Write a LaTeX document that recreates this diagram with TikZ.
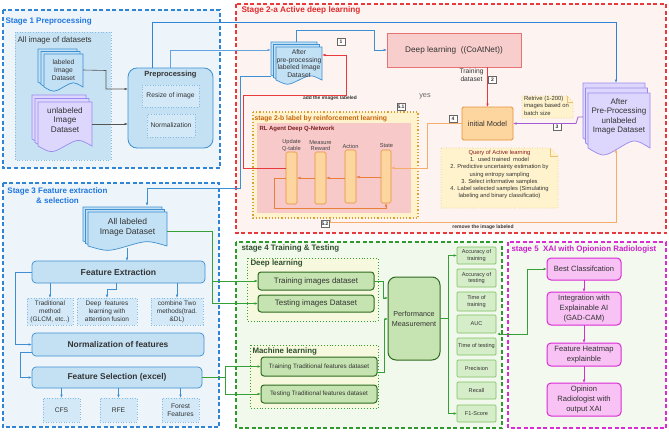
\documentclass[tikz,border=0pt]{standalone}
\usepackage{fontspec}
\setmainfont{Liberation Sans}
\usetikzlibrary{arrows.meta}
\definecolor{bluebd}{HTML}{2F84D6}
\definecolor{bluetx}{HTML}{1F77E0}
\definecolor{st1fill}{HTML}{EEF5FA}
\definecolor{allimg}{HTML}{C7E3F3}
\definecolor{allimgbd}{HTML}{86BCE3}
\definecolor{docblue}{HTML}{C2E1F5}
\definecolor{docbluebd}{HTML}{3D8FD1}
\definecolor{boxblue}{HTML}{C4E1F4}
\definecolor{dotblue}{HTML}{D3E9F7}
\definecolor{lav}{HTML}{DDD6FD}
\definecolor{lavbd}{HTML}{9A8AEE}
\definecolor{redbd}{HTML}{E8393C}
\definecolor{redtx}{HTML}{E02A2A}
\definecolor{st2fill}{HTML}{FDF4F2}
\definecolor{dlfill}{HTML}{F8CECC}
\definecolor{dlbd}{HTML}{E57373}
\definecolor{orfill}{HTML}{FCD59F}
\definecolor{orbd}{HTML}{E8913A}
\definecolor{orline}{HTML}{E8803A}
\definecolor{orlight}{HTML}{F5AE6A}
\definecolor{yelfill}{HTML}{FFF3CD}
\definecolor{yelbd}{HTML}{DDA030}
\definecolor{st2btx}{HTML}{C8640A}
\definecolor{rlfill}{HTML}{F8C9C9}
\definecolor{rltx}{HTML}{7A2121}
\definecolor{notebd}{HTML}{F0C070}
\definecolor{qtitle}{HTML}{8B1A1A}
\definecolor{purp}{HTML}{A35CD6}
\definecolor{grnbd}{HTML}{2E9A2E}
\definecolor{grntx}{HTML}{2F4F2F}
\definecolor{st4fill}{HTML}{F1F8EC}
\definecolor{dlsub}{HTML}{F6F9DE}
\definecolor{gbox}{HTML}{C6E4B1}
\definecolor{gboxbd}{HTML}{2E6A20}
\definecolor{mfill}{HTML}{D6EDC9}
\definecolor{mbd}{HTML}{7DC060}
\definecolor{magbd}{HTML}{DA2BD4}
\definecolor{magfill}{HTML}{F8C2F4}
\definecolor{magtx}{HTML}{CC1FCC}
\definecolor{st5fill}{HTML}{F3F9EF}
\definecolor{txt}{HTML}{333333}
\definecolor{grline}{HTML}{35A035}
\definecolor{grayln}{HTML}{555555}
\newcommand\fsz[2]{\fontsize{#1}{#2}\selectfont}
\newcommand\docp[5]{\path[#5] ({#1},{#2}) -- ({#3},{#2}) -- ({#3},{#4}) .. controls ({(#1)+0.75*((#3)-(#1))},{(#4)-0.17*((#4)-(#2))}) .. ({0.5*((#1)+(#3))},{#4}) .. controls ({(#1)+0.25*((#3)-(#1))},{(#4)+0.17*((#4)-(#2))}) .. ({#1},{#4}) -- cycle;}
\newcommand\mdoc[7]{%
 \docp{(#1)+2*(#5)}{(#2)+2*(#6)}{(#3)+2*(#5)}{(#4)+2*(#6)}{#7}%
 \docp{(#1)+(#5)}{(#2)+(#6)}{(#3)+(#5)}{(#4)+(#6)}{#7}%
 \docp{#1}{#2}{#3}{#4}{#7}}
\newcommand\bx[7]{\node[#6, minimum width={(#4)-(#2)}, minimum height={(#5)-(#3)}] (#1) at ({((#2)+(#4))/2},{((#3)+(#5))/2}) {#7};}
\tikzset{
 stagebox/.style={line width=1.1pt, dash pattern=on 4pt off 2.5pt},
 arr/.style={-{Latex[length=3.5pt,width=2.6pt]}, line width=0.6pt},
 tn/.style={inner sep=0pt},
 numbox/.style={draw=gray!80!black, fill=white, line width=0.5pt, inner sep=0.5pt, minimum width=8pt, minimum height=7pt, font=\fsz{5}{5}\bfseries},
 bluebox/.style={draw=docbluebd, fill=boxblue, rounded corners=4pt, line width=0.7pt},
 dbox/.style={draw=allimgbd, fill=dotblue, dotted, line width=0.6pt},
 bar/.style={draw=orbd, fill=orfill, rounded corners=1.5pt, line width=0.6pt},
 gboxs/.style={draw=gboxbd, fill=gbox, rounded corners=3pt, line width=1pt},
 mbox/.style={draw=mbd, fill=mfill, rounded corners=1pt, line width=0.7pt, font=\fsz{5.6}{6.6}},
 magbox/.style={draw=magbd, fill=magfill, rounded corners=4pt, line width=1pt, font=\fsz{7.6}{10}},
 bluedoc/.style={draw=docbluebd, fill=docblue, line width=0.7pt},
 lavdoc/.style={draw=lavbd, fill=lav, line width=0.7pt}
}
\begin{document}
\begin{tikzpicture}[x=1pt,y=-1pt, every node/.append style={inner sep=0.5pt, outer sep=0pt, align=center, text=txt}]
\useasboundingbox (0,0) rectangle (669,431);
\fill[white] (0,0) rectangle (669,431);
% ---------- stage backgrounds
\path[stagebox, draw=bluebd, fill=st1fill] (3,10) rectangle (220,168);
\path[stagebox, draw=redbd, fill=st2fill] (236,4) rectangle (666,233);
\path[stagebox, draw=bluebd, fill=st1fill] (3,183) rectangle (219,427);
\path[stagebox, draw=grnbd, fill=st4fill] (236,242) rectangle (502,428);
\path[stagebox, draw=magbd, fill=st5fill] (508,242) rectangle (666,428);
\path[draw=allimgbd, fill=allimg, dotted, line width=0.7pt] (15,32) rectangle (111,160);
\path[draw=yelbd, fill=yelfill, dotted, line width=1.2pt] (253,112) rectangle (418,218);
\path[fill=rlfill] (257,123) rectangle (411,213);
\path[draw=grline, fill=dlsub, dotted, line width=0.9pt] (247,258) rectangle (378,321);
\path[draw=grline, fill=dlsub, dotted, line width=0.9pt] (250,345) rectangle (378,408);
% ---------- stage labels
\node[anchor=west, font=\fsz{8}{9}\bfseries, text=bluetx] (s1) at (5,21) {Stage 1 Preprocessing};
\node[anchor=west, font=\fsz{8}{9}] (allimgl) at (17,40.5) {All image of datasets};
\node[anchor=west, font=\fsz{8.2}{9}\bfseries, text=redtx] (s2) at (241,10) {Stage 2-a Active deep learning};
\node[anchor=west, font=\fsz{6.8}{8}\bfseries, text=st2btx] (s2b) at (254,119) {stage 2-b label by reinforcement learning};
\node[anchor=west, font=\fsz{6}{7}\bfseries, text=rltx] (rl) at (259,129) {RL Agent Deep Q-Network};
\node[font=\fsz{8}{9.8}\bfseries, text=bluetx] (s3) at (57.5,196) {Stage 3 Feature extraction\\\& selection};
\node[anchor=west, font=\fsz{7.9}{9}\bfseries, text=grntx] (s4) at (241,248) {stage 4 Training \& Testing};
\node[anchor=west, font=\fsz{7.9}{9}\bfseries, text=grntx] (dls) at (250,263.5) {Deep learning};
\node[anchor=west, font=\fsz{7.9}{9}\bfseries, text=grntx] (mls) at (252,351) {Machine learning};
\node[anchor=west, font=\fsz{7.9}{9}\bfseries, text=magtx] (s5) at (511,249) {stage 5\ \ XAI with Opionion Radiologist};
% ---------- stage 1
\mdoc{44}{54}{83}{87}{-3}{-2.5}{bluedoc}
\bx{labdoc}{44}{54}{83}{86}{tn, font=\fsz{6.7}{8}}{labeled\\Image\\Dataset}
\mdoc{38}{102}{92}{146}{-3}{-3.5}{lavdoc}
\bx{unlab}{38}{100}{92}{140}{tn, font=\fsz{8.2}{9.5}}{unlabeled\\Image\\Dataset}
\bx{pre}{128}{68}{213}{148}{draw=docbluebd, fill=boxblue, rounded corners=9pt, line width=0.8pt}{}
\node[font=\fsz{7.5}{8}\bfseries] (pret) at (170.5,74.5) {Preprocessing};
\bx{resz}{142}{85}{199}{107}{dbox, font=\fsz{6.7}{8}}{Resize of image}
\bx{normz}{147}{114}{195}{137}{dbox, font=\fsz{6.7}{8}}{Normalization}
% ---------- stage 2-a
\mdoc{276}{47}{322}{80}{-2.5}{-2.5}{bluedoc}
\bx{alab}{276}{47}{322}{80}{tn, font=\fsz{6.8}{7.5}}{After\\pre-processing\\labeled Image\\Dataset}
\bx{dl}{387}{33}{521}{67}{draw=dlbd, fill=dlfill, line width=0.7pt, font=\fsz{8.2}{9}}{Deep learning\ \ ((CoAtNet))}
\bx{init}{462}{107}{513}{140}{draw=orbd, fill=orfill, line width=0.8pt, rounded corners=1.5pt, font=\fsz{7.4}{8}}{initial Model}
\node[font=\fsz{6.7}{8}] (trd) at (471.5,75) {Training\\dataset};
\node[font=\fsz{7.3}{8}, text=gray!80!black] (yes) at (425,96) {yes};
\mdoc{588}{93}{650}{148}{-2.5}{-5}{lavdoc}
\bx{ua}{588}{95}{650}{138}{tn, font=\fsz{8}{9.6}}{After\\Pre-Processing\\unlabeled\\Image Dataset}
\path[draw=notebd, fill=yelfill, dotted, line width=0.6pt] (522,96) -- (567,96) -- (573,102) -- (573,118) -- (522,118) -- cycle;
\draw[notebd, line width=0.5pt] (567,96) -- (567,102) -- (573,102);
\node[anchor=north west, align=left, font=\fsz{5.9}{7.5}] (retr) at (523.5,95.5) {Retrive (1-200)\\images based on\\batch size};
\path[draw=notebd, fill=yelfill, dotted, line width=0.6pt] (441,148) -- (550,148) -- (558,156) -- (558,208) -- (441,208) -- cycle;
\draw[notebd, line width=0.5pt] (550,148) -- (550,156) -- (558,156);
\node[font=\fsz{5.8}{7.1}] (qal) at (499.5,174.5) {\textcolor{qtitle}{Query of Active learning}\\1.\ \ used trained\ \ model\\2. Predictive uncertainty estimation by\\using entropy sampling\\3. Select informative samples\\4. Label selected samples (Simulating\\labeling and binary classificatio)};
% RL bars
\bx{upd}{286}{152}{297}{204}{bar}{}
\bx{meas}{315}{152}{326}{204}{bar}{}
\bx{act}{345}{150}{356}{203}{bar}{}
\bx{state}{381}{150}{391}{203}{bar}{}
\node[font=\fsz{5.7}{6.8}, text=gray!20!txt] (updl) at (291.5,145.5) {Update\\Q-table};
\node[font=\fsz{5.7}{6.8}, text=gray!20!txt] (measl) at (320.5,145.5) {Measure\\Reward};
\node[font=\fsz{5.7}{6.8}, text=gray!20!txt] (actl) at (350.5,146) {Action};
\node[font=\fsz{5.7}{6.8}, text=gray!20!txt] (statel) at (386.5,146) {State};
\node[numbox] (n1) at (341,42) {1};
\node[numbox] (n2) at (492.5,80) {2};
\node[numbox] (n3) at (557,127) {3};
\node[numbox] (n4) at (453,118.5) {4};
\node[numbox] (n51) at (401,107) {5.1};
\node[numbox] (n52) at (325,224) {5.2};
\node[font=\fsz{4.9}{6}\bfseries] (addl) at (330,98.6) {add the images labeled};
\node[font=\fsz{5}{6}\bfseries] (reml) at (483,227) {remove the image labeled};
% ---------- stage 3
\mdoc{88}{212}{167}{246}{-2.5}{-2.5}{bluedoc}
\bx{ald}{88}{212}{167}{242}{tn, font=\fsz{8.5}{10}}{All labeled\\Image Dataset}
\bx{fe}{32}{261}{205}{283}{bluebox, font=\fsz{8.6}{9}\bfseries}{Feature Extraction}
\bx{trad}{27}{298}{73}{325}{dbox, font=\fsz{6.5}{8}}{Traditional\\method\\(GLCM, etc..)}
\bx{deepf}{77}{298}{137}{325}{dbox, font=\fsz{6.5}{8}}{Deep\ \ features\\learning with\\attention fusion}
\bx{comb}{151}{298}{203}{325}{dbox, font=\fsz{6.5}{8}}{combine Two\\methods(trad.\\\&DL)}
\bx{nf}{32}{333}{204}{356}{bluebox, font=\fsz{8.4}{9}\bfseries}{Normalization of features}
\bx{fsel}{32}{367}{202}{388}{bluebox, font=\fsz{8.4}{9}\bfseries}{Feature Selection (excel)}
\bx{cfs}{43}{398}{80}{422}{dbox, font=\fsz{6.7}{8}}{CFS}
\bx{rfe}{100}{398}{137}{422}{dbox, font=\fsz{6.7}{8}}{RFE}
\bx{forest}{162}{398}{199}{422}{dbox, font=\fsz{6.7}{8}}{Forest\\Features}
% ---------- stage 4
\bx{tri}{258}{272}{374}{290}{gboxs, font=\fsz{7.9}{9}}{Training images dataset}
\bx{tsi}{258}{295}{374}{312}{gboxs, font=\fsz{7.9}{9}}{Testing images Dataset}
\bx{ttr}{261}{357}{377}{376}{gboxs, font=\fsz{6.3}{7}}{Training Traditional features dataset}
\bx{tte}{261}{385}{377}{403}{gboxs, font=\fsz{6.3}{7}}{Testing Traditional features dataset}
\bx{perf}{388}{277}{440}{360}{gboxs, rounded corners=8pt, font=\fsz{7.2}{10}}{Performance\\Measurement}
\bx{m1}{457}{247}{496}{264}{mbox}{Accuracy of\\training}
\bx{m2}{457}{269}{496}{287}{mbox}{Accuracy of\\testing}
\bx{m3}{457}{292}{496}{311}{mbox}{Time of\\training}
\bx{m4}{457}{315}{496}{333}{mbox}{AUC}
\bx{m5}{457}{338}{496}{355}{mbox}{Time of testing}
\bx{m6}{457}{360}{496}{377}{mbox}{Precision}
\bx{m7}{457}{382}{496}{399}{mbox}{Recall}
\bx{m8}{457}{405}{496}{422}{mbox}{F1-Score}
% ---------- stage 5
\bx{best}{547}{258}{621}{280}{magbox}{Best Classifcation}
\bx{integ}{547}{292}{621}{325}{magbox}{Integration with\\Explainable AI\\(GAD-CAM)}
\bx{heat}{547}{343}{621}{366}{magbox}{Feature Heatmap\\explainble}
\bx{opin}{547}{383}{621}{416}{magbox}{Opinion\\Radiologist with\\output XAI}
% ---------- named free ends
\coordinate (uatop) at (616,83);
\coordinate (uabot) at (616,149);
\coordinate (alabin) at (271,50);
\coordinate (alableft) at (271,76);
\coordinate (aldtop) at (147,206);
\coordinate (aldbot) at (127,248);
\coordinate (ualeft) at (583,117);
\coordinate (s2bbot) at (330,218);
% ---------- connectors
\draw[arr, draw=grayln] (labdoc.east) -- (106,70.5) -- (106,89) -- (pre.west |- 0,89);
\draw[arr, draw=grayln] (unlab.east |- 0,124) -- (pre.west |- 0,124);
\draw[arr, draw=bluebd, line width=0.8pt] (pre.north -| 152,0) -- (152,22) -| (uatop);
\draw[arr, draw=bluebd!75!white, line width=0.8pt] (pre.north) |- (alabin);
\draw[arr, draw=docbluebd] (alab.north -| 296,0) ++(0,-5) -- (296,30) -| (374,50) -- (dl.west |- 0,50);
\draw[arr, draw=redbd] (dl.south -| init.north) -- (init.north);
\draw[arr, draw=orlight] (init.west) -- (427,123.5) |- (state.east |- 0,168);
\draw[arr, draw=purp, line width=0.8pt] (ualeft) -- (578,117) -- (576,123.5) -- (init.east);
\draw[arr, draw=orline, line width=0.5pt] (state.west |- 0,177) -- (act.east |- 0,177);
\draw[arr, draw=orline, line width=0.5pt] (act.west |- 0,178) -- (meas.east |- 0,178);
\draw[arr, draw=orline, line width=0.5pt] (meas.west |- 0,178) -- (upd.east |- 0,178);
\draw[arr, draw=orline, line width=0.5pt] (upd.west |- 0,178) -- (274,178) |- (386,208) -- (state.south -| 386,0);
\draw[arr, draw=redbd] (upd.west |- 0,168) -- (243,168) -- (243,95) -- (346,95) -- (346,55) -- (alab.east |- 0,55);
\draw[arr, draw=docbluebd] (alableft) -- (240,76) -- (240,188) -| (aldtop);
\draw[arr, draw=orlight] (s2bbot) -- (330,222) -- (616,222) -- (uabot);
% stage 3
\draw[arr, draw=docbluebd] (aldbot) -- (fe.north -| aldbot);
\draw[arr, draw=docbluebd] (fe.south -| trad.north) -- (trad.north);
\draw[arr, draw=docbluebd] (fe.south -| 116,0) -- (116,289) -- (107,289) -- (deepf.north -| 107,0);
\draw[arr, draw=docbluebd] (fe.south -| comb.north) -- (comb.north);
\draw[arr, draw=docbluebd] (fe.west) -- (15,272) |- (nf.west);
\draw[arr, draw=docbluebd] (nf.west |- 0,352) -- (20,352) |- (fsel.west);
\draw[arr, draw=docbluebd] (fsel.south -| cfs.north) -- (cfs.north);
\draw[arr, draw=docbluebd] (fsel.south -| rfe.north) -- (rfe.north);
\draw[arr, draw=docbluebd] (fsel.south -| forest.north) -- (forest.north);
% stage 3 -> 4
\draw[arr, draw=grline] (ald.east |- 0,231) -- (212,231) |- (tri.west);
\draw[arr, draw=grline] (212,231) |- (tsi.west);
\draw[arr, draw=grline] (fsel.east) -- (225,377.5) |- (ttr.west);
\draw[arr, draw=grline] (225,377.5) |- (tte.west);
% stage 4
\draw[arr, draw=grline, line width=0.5pt] (tri.east) -- (383,281) |- (perf.west |- 0,298);
\draw[arr, draw=grline, line width=0.5pt] (ttr.east |- 0,372) -- (384,372) |- (perf.west |- 0,319);
\draw[draw=grline, line width=0.5pt] (perf.east |- 0,318) -- (448,318);
\draw[draw=grline, line width=0.5pt] (448,255.5) -- (448,413.5);
\draw[arr, draw=grline, line width=0.5pt] (448,255.5) -- (m1.west);
\draw[arr, draw=grline, line width=0.5pt] (448,413.5) -- (m8.west);
\draw[{Latex[length=3pt,width=2.5pt]}-{Latex[length=3.5pt,width=2.6pt]}, draw=grline, line width=0.7pt] (m4.east |- 0,334) ++(1,0) -- (527,334) |- (best.west);
% stage 5
\draw[arr, draw=magbd, line width=0.5pt] (best.south) -- (integ.north);
\draw[arr, draw=magbd, line width=0.5pt] (integ.south) -- (heat.north);
\draw[arr, draw=magbd, line width=0.5pt] (heat.south) -- (opin.north);
\end{tikzpicture}
\end{document}
